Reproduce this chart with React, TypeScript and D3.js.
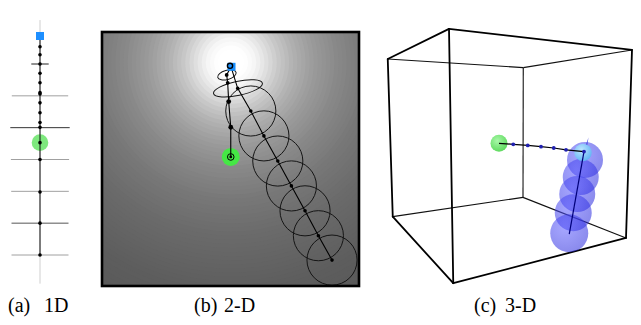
import React from "react";
import * as d3 from "d3";

const W = 641;
const H = 325;

// ---------- Panel (a): 1-D ----------
const aLevels = [0, 1, 2, 3, 4, 5, 6];
const aLevelHalfWidth = [0.29, 0.94, 0.99, 0.97, 0.96, 0.95, 0.95];
const aLevelShade = ["#222", "#a0a0a0", "#333", "#a0a0a0", "#a0a0a0", "#555", "#a0a0a0"];
const aStart = -0.88;
const aGoal = 2.47;
const aTrace = [-0.81, -0.54, -0.29, 0, 0.29, 0.59, 0.9, 0.94, 1.22, 1.53, 1.84, 1.99, 2.47, 3.0, 4.02, 5.0, 6.0];
const aAxisRange = [-1.38, 6.9];

// ---------- Panel (b): 2-D ----------
const bStart: [number, number] = [50.2, 13.7];
const bGoal: [number, number] = [50.1, 49.2];
const bTraceA: [number, number][] = [[48.5, 16.9], [48.9, 20.0], [49.3, 27.4], [50.1, 37.5], [50.1, 49.2]];
const bTraceB: [number, number][] = [[52.8, 22.2], [57.9, 31.1], [63.0, 40.9], [68.4, 50.8], [73.7, 60.6], [79.0, 70.4], [84.2, 80.2], [89.5, 89.8]];
const bCircleR = 9.75;
const bEllipses = [
  { c: [48.6, 16.9], rx: 3.7, ry: 1.8, angle: -15 },
  { c: [52.9, 22.2], rx: 9.7, ry: 2.75, angle: -12 },
];
const bFieldCenter: [number, number] = [50.2, 12.0];
const bFieldDist = [0, 6, 10, 14, 19, 25, 32, 42, 54, 70, 90, 120];
const bFieldGray = [255, 255, 246, 226, 201, 177, 157, 137, 120, 105, 93, 84];

// ---------- Panel (c): 3-D ----------
const cCorners: Record<string, [number, number]> = {
  A: [25.6, 1.5], B: [98.8, 9.6], C: [1.1, 13.1], D: [55.3, 16.4],
  E: [3.1, 73.7], F: [55.2, 66.3], G: [96.4, 81.9], H: [27.3, 99.3],
};
const cThinEdges = [["C", "D"], ["D", "B"], ["D", "F"], ["F", "E"], ["F", "G"]];
const cThickEdges = [["A", "B"], ["A", "C"], ["A", "H"], ["B", "G"], ["C", "E"], ["E", "H"], ["H", "G"]];
const cGoal: [number, number] = [45.6, 45.5];
const cDots: [number, number][] = [[51.3, 45.9], [57.1, 46.3], [62.4, 46.8], [67.5, 47.3], [72.4, 48.0], [79.6, 48.7]];
const cStart: [number, number] = [79.2, 49.0];
const cSpheres: [number, number][] = [[80.0, 51.9], [78.3, 58.5], [76.9, 65.0], [75.3, 72.2], [73.7, 80.1]];
const cSphereR = [7.2, 7.2, 7.2, 7.4, 7.6];
const cDrop: [number, number][] = [[79.6, 48.7], [73.7, 80.4]];
const cSpike: [number, number][] = [[79.0, 49.5], [81.4, 43.3], [80.3, 49.8]];

// ---------- captions ----------
const capTags = ["(a)", "(b)", "(c)"];
const capNames = ["1D", "2-D", "3-D"];

export default function App() {
  // panel a scales
  const ay = d3.scaleLinear().domain([0, 6]).range([64, 255]);
  const ax = d3.scaleLinear().domain([-1, 1]).range([10, 70]);

  // panel b scales
  const bx = d3.scaleLinear().domain([0, 100]).range([102, 359]);
  const by = d3.scaleLinear().domain([0, 100]).range([32, 286]);
  const bpx = (d: number) => bx(d) - bx(0);
  const grayScale = d3.scaleLinear().domain(bFieldDist).range(bFieldGray).clamp(true);
  const bands = d3.range(125, -0.1, -1.6);
  const bLine = d3.line<[number, number]>().x((d) => bx(d[0])).y((d) => by(d[1]));

  // panel c scales
  const cx = d3.scaleLinear().domain([0, 100]).range([385, 635]);
  const cy = d3.scaleLinear().domain([0, 100]).range([25, 285]);
  const cpx = (d: number) => cx(d) - cx(0);
  const cLine = d3.line<[number, number]>().x((d) => cx(d[0])).y((d) => cy(d[1]));

  const capX = [[8, 44], [194, 224], [474, 505]];
  const lastA = bTraceA.length - 1;

  return (
    <svg
      width={W}
      height={H}
      style={{ position: "fixed", left: 0, top: 0, background: "#fff" }}
      xmlns="http://www.w3.org/2000/svg"
    >
      <defs>
        <clipPath id="bclip">
          <rect x={bx(0)} y={by(0)} width={bx(100) - bx(0)} height={by(100) - by(0)} />
        </clipPath>
        <radialGradient id="sphBlue" cx="0.38" cy="0.35" r="0.7">
          <stop offset="0" stopColor="#5e5eff" />
          <stop offset="1" stopColor="#2828dc" />
        </radialGradient>
        <radialGradient id="sphLight" cx="0.4" cy="0.35" r="0.7">
          <stop offset="0" stopColor="#bfe6ff" />
          <stop offset="1" stopColor="#5fb2f4" />
        </radialGradient>
        <radialGradient id="sphGreen" cx="0.4" cy="0.35" r="0.7">
          <stop offset="0" stopColor="#a8f8a8" />
          <stop offset="1" stopColor="#5ad85a" />
        </radialGradient>
      </defs>

      {/* ---------------- Panel (a) ---------------- */}
      <g>
        <line x1={ax(0)} x2={ax(0)} y1={ay(aAxisRange[0])} y2={ay(aAxisRange[1])} stroke="#cfcfcf" strokeWidth={1} />
        {aLevels.map((lv, i) => (
          <line
            key={"al" + i}
            x1={ax(-aLevelHalfWidth[i])}
            x2={ax(aLevelHalfWidth[i])}
            y1={ay(lv)}
            y2={ay(lv)}
            stroke={aLevelShade[i]}
            strokeWidth={1}
          />
        ))}
        <circle cx={ax(0)} cy={ay(aGoal)} r={8.3} fill="#7ee87e" />
        <line x1={ax(0)} x2={ax(0)} y1={ay(aStart)} y2={ay(aTrace[aTrace.length - 1])} stroke="#111" strokeWidth={1} />
        {aTrace.map((v, i) => (
          <circle key={"ad" + i} cx={ax(0)} cy={ay(v)} r={1.8} fill="#000" />
        ))}
        <rect x={ax(0) - 4} y={ay(aStart) - 4} width={8} height={8} fill="#1e8fff" />
      </g>

      {/* ---------------- Panel (b) ---------------- */}
      <g>
        <g clipPath="url(#bclip)">
          <rect x={bx(0)} y={by(0)} width={bx(100) - bx(0)} height={by(100) - by(0)} fill="rgb(84,84,84)" />
          {bands.map((r, i) => {
            const g = Math.round(grayScale(r));
            return (
              <circle
                key={"bb" + i}
                cx={bx(bFieldCenter[0])}
                cy={by(bFieldCenter[1])}
                r={bpx(r)}
                fill={`rgb(${g},${g},${g})`}
              />
            );
          })}
          <circle cx={bx(bGoal[0])} cy={by(bGoal[1])} r={9} fill="#45e845" />
          {bTraceB.slice(1).map((p, i) => (
            <circle key={"bc" + i} cx={bx(p[0])} cy={by(p[1])} r={bpx(bCircleR)} fill="none" stroke="#151515" strokeWidth={1} />
          ))}
          {bEllipses.map((e, i) => (
            <ellipse
              key={"be" + i}
              cx={bx(e.c[0])}
              cy={by(e.c[1])}
              rx={bpx(e.rx)}
              ry={bpx(e.ry)}
              transform={`rotate(${e.angle} ${bx(e.c[0])} ${by(e.c[1])})`}
              fill="none"
              stroke="#151515"
              strokeWidth={1}
            />
          ))}
          <path d={bLine([bStart, ...bTraceA]) || ""} fill="none" stroke="#000" strokeWidth={1.1} />
          <path d={bLine([bStart, ...bTraceB]) || ""} fill="none" stroke="#000" strokeWidth={1.1} />
          {bTraceA.map((p, i) => (
            <circle key={"bda" + i} cx={bx(p[0])} cy={by(p[1])} r={i === lastA ? 1.4 : i >= 2 ? 2.4 : 1.9} fill="#000" />
          ))}
          {bTraceB.map((p, i) => (
            <circle key={"bdb" + i} cx={bx(p[0])} cy={by(p[1])} r={1.8} fill="#000" />
          ))}
          <rect x={bx(bStart[0]) - 3.5} y={by(bStart[1]) - 4} width={8} height={8} fill="#1a90ff" />
          <circle cx={bx(bStart[0]) - 1} cy={by(bStart[1]) - 1} r={2.6} fill="none" stroke="#000" strokeWidth={1.4} />
          <circle cx={bx(bGoal[0])} cy={by(bGoal[1])} r={3.3} fill="none" stroke="#000" strokeWidth={1} />
        </g>
        <rect
          x={bx(0)}
          y={by(0)}
          width={bx(100) - bx(0)}
          height={by(100) - by(0)}
          fill="none"
          stroke="#000"
          strokeWidth={2.6}
        />
      </g>

      {/* ---------------- Panel (c) ---------------- */}
      <g>
        {cThinEdges.map(([a, b], i) => (
          <line
            key={"ct" + i}
            x1={cx(cCorners[a][0])}
            y1={cy(cCorners[a][1])}
            x2={cx(cCorners[b][0])}
            y2={cy(cCorners[b][1])}
            stroke="#111"
            strokeWidth={1.1}
          />
        ))}
        {cThickEdges.map(([a, b], i) => (
          <line
            key={"ck" + i}
            x1={cx(cCorners[a][0])}
            y1={cy(cCorners[a][1])}
            x2={cx(cCorners[b][0])}
            y2={cy(cCorners[b][1])}
            stroke="#000"
            strokeWidth={1.8}
            strokeLinecap="round"
          />
        ))}
        {cSpheres.map((p, i) => (
          <circle key={"cs" + i} cx={cx(p[0])} cy={cy(p[1])} r={cpx(cSphereR[i])} fill="url(#sphBlue)" opacity={0.55} />
        ))}
        <path d={cLine(cSpike) || ""} fill="#3a3ae0" opacity={0.8} />
        <circle cx={cx(cStart[0])} cy={cy(cStart[1])} r={cpx(3.5)} fill="url(#sphLight)" />
        <path d={cLine(cDrop) || ""} stroke="#00007a" strokeWidth={1.2} fill="none" />
        <circle cx={cx(cGoal[0])} cy={cy(cGoal[1])} r={cpx(3.4)} fill="url(#sphGreen)" />
        <path d={cLine([cGoal, ...cDots]) || ""} stroke="#000" strokeWidth={1.2} fill="none" />
        {cDots.map((p, i) => (
          <circle key={"cd" + i} cx={cx(p[0])} cy={cy(p[1])} r={1.9} fill="#2020b0" />
        ))}
      </g>

      {/* ---------------- Captions ---------------- */}
      {capTags.map((t, i) => (
        <g key={"cap" + i} fontFamily="'Liberation Serif', 'Times New Roman', serif" fontSize={20} fill="#000">
          <text x={capX[i][0]} y={312}>{t}</text>
          <text x={capX[i][1]} y={312}>{capNames[i]}</text>
        </g>
      ))}
    </svg>
  );
}
